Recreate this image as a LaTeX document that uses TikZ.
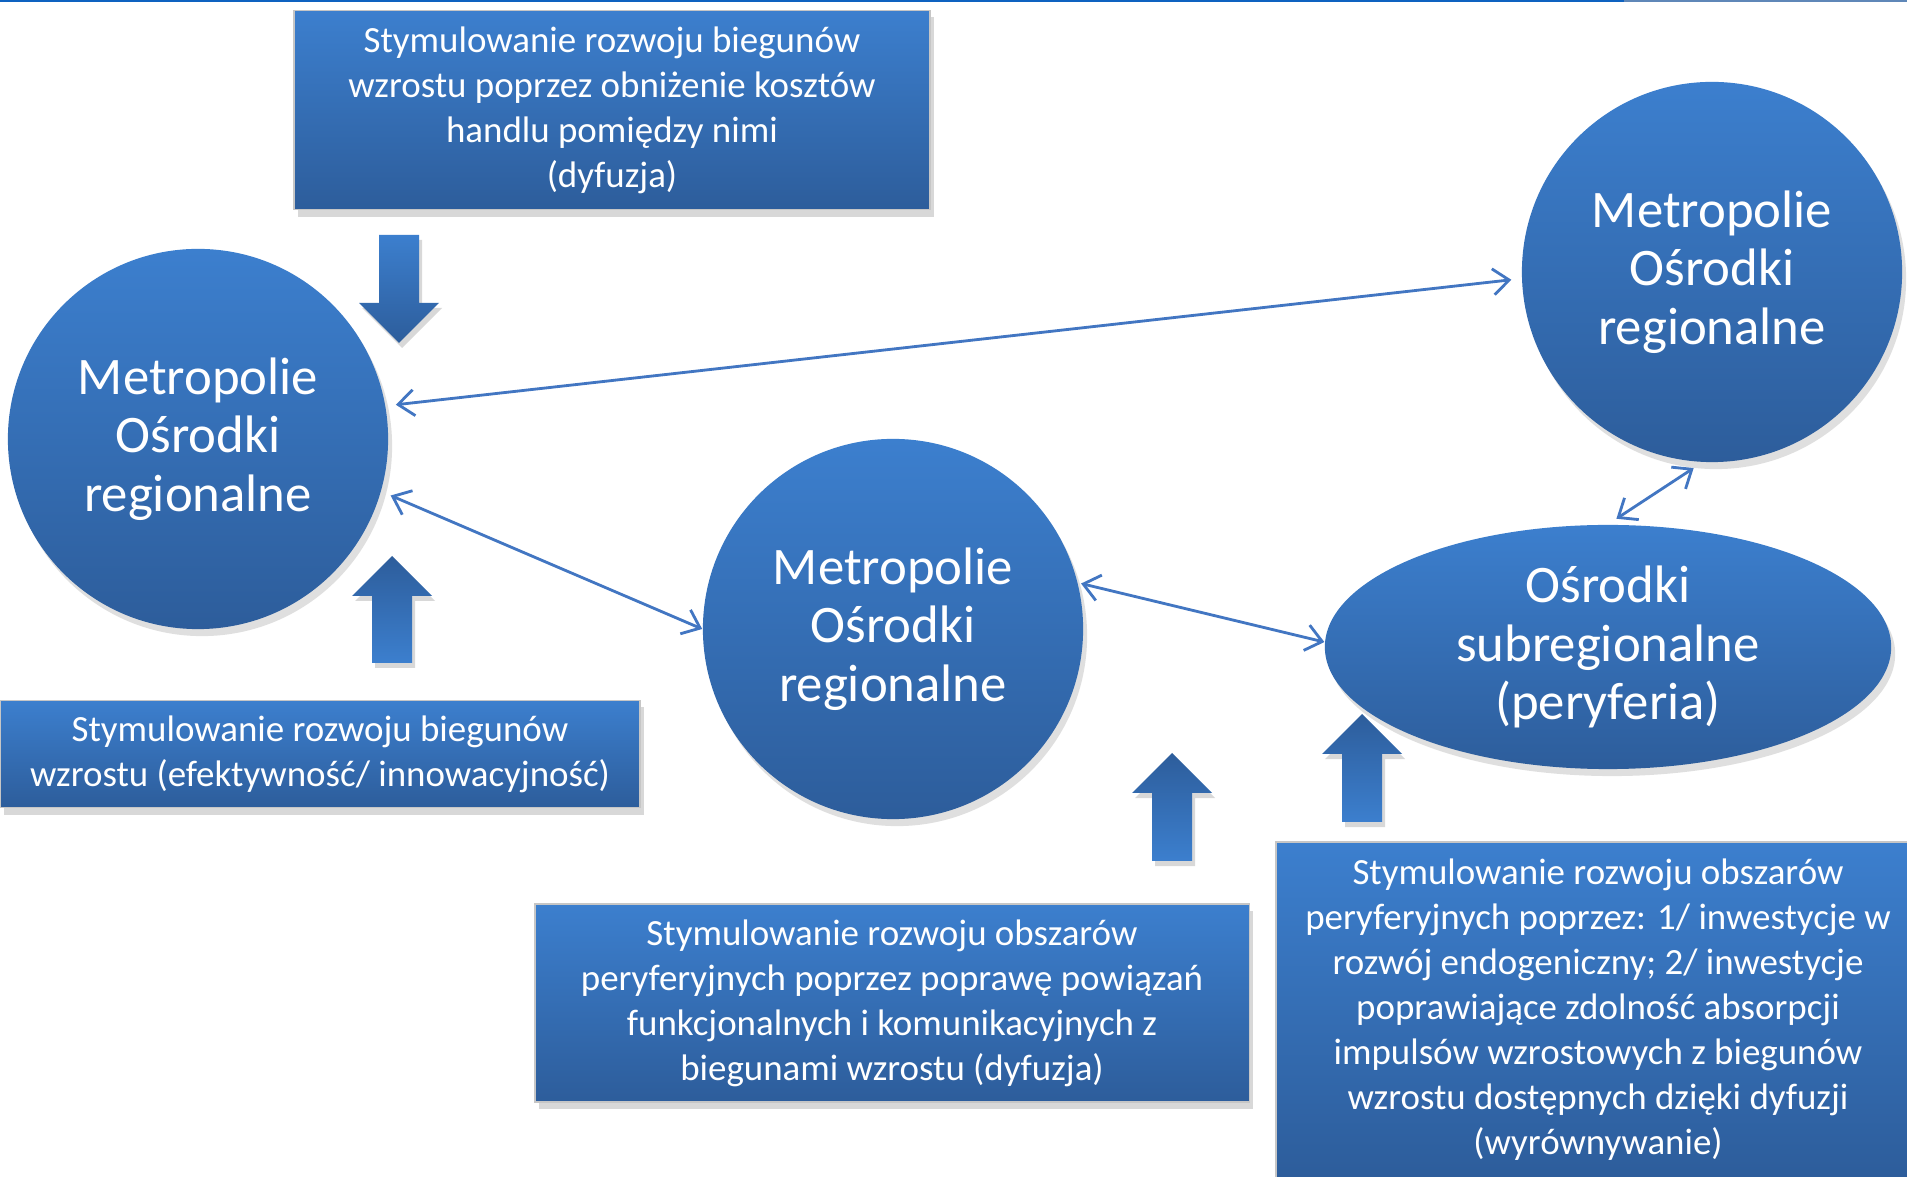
\documentclass[tikz,border=0pt]{standalone}
\usepackage{fontspec}
\setmainfont{Carlito}
\usetikzlibrary{shapes.geometric, arrows.meta, shadows}

\definecolor{boxtop}{RGB}{60,127,206}
\definecolor{boxbot}{RGB}{45,93,155}
\definecolor{linkblue}{RGB}{66,118,194}
\definecolor{rulecol}{RGB}{14,98,192}
\definecolor{rulegray}{RGB}{95,135,184}

\begin{document}
\begin{tikzpicture}[x=0.01cm, y=-0.01cm,
    box/.style={rectangle, draw=gray!45, line width=0.4pt, top color=boxtop, bottom color=boxbot,
        text=white, align=center, inner sep=0pt, font=\fontsize{10.5}{12.8}\selectfont,
        drop shadow={opacity=0.3, shadow xshift=0.4mm, shadow yshift=-0.7mm}},
    pole/.style={circle, minimum size=3.8cm, inner sep=0pt, top color=boxtop, bottom color=boxbot,
        text=white, align=center, font=\fontsize{15}{16.6}\selectfont,
        drop shadow={opacity=0.25, shadow xshift=0.4mm, shadow yshift=-0.7mm}},
    blockarrow/.style={drop shadow={opacity=0.3, shadow xshift=0.3mm, shadow yshift=-0.5mm}},
    link/.style={draw=linkblue, line width=0.8pt,
        {Straight Barb[length=1.6mm,width=2.6mm]}-{Straight Barb[length=1.6mm,width=2.6mm]},
        shorten <=1mm, shorten >=1mm}]

    \useasboundingbox (0,0) rectangle (1907,1177);
    \fill[white] (0,0) rectangle (1907,1177);

    % Top rule
    \draw[rulecol, line width=0.02cm] (0,1) -- (1624,1);
    \draw[rulegray, line width=0.02cm] (1624,1) -- (1907,1);

    % Poles
    \node[pole] (leftpole) at (198,439) {Metropolie\\Ośrodki\\regionalne};
    \node[pole] (toppole) at (1712,272) {Metropolie\\Ośrodki\\regionalne};
    \node[pole] (midpole) at (893,629) {Metropolie\\Ośrodki\\regionalne};
    \node[ellipse, minimum width=5.66cm, minimum height=2.44cm, inner sep=0pt,
        top color=boxtop, bottom color=boxbot, text=white, align=center,
        font=\fontsize{15}{16.6}\selectfont,
        drop shadow={opacity=0.25, shadow xshift=0.4mm, shadow yshift=-0.7mm}]
        (periphery) at (1608,647) {Ośrodki\\subregionalne\\(peryferia)};

    % Policy boxes
    \node[box, minimum width=6.36cm, minimum height=1.99cm] (topbox) at (612,110)
        {Stymulowanie rozwoju biegunów\\wzrostu poprzez obniżenie kosztów\\handlu pomiędzy nimi\\(dyfuzja)};
    \node[box, minimum width=6.40cm, minimum height=1.07cm] (leftbox) at (320,754)
        {Stymulowanie rozwoju biegunów\\wzrostu (efektywność/ innowacyjność)};
    \node[box, minimum width=7.14cm, minimum height=1.98cm] (midbox) at (892,1003)
        {Stymulowanie rozwoju obszarów\\peryferyjnych poprzez poprawę powiązań\\funkcjonalnych i komunikacyjnych z\\biegunami wzrostu (dyfuzja)};
    \node[box, minimum width=6.44cm, minimum height=3.36cm] (rightbox) at (1598,1010)
        {Stymulowanie rozwoju obszarów\\peryferyjnych poprzez: 1/ inwestycje w\\rozwój endogeniczny; 2/ inwestycje\\poprawiające zdolność absorpcji\\impulsów wzrostowych z biegunów\\wzrostu dostępnych dzięki dyfuzji\\(wyrównywanie)};

    % Block arrows
    \path[blockarrow, top color=boxtop, bottom color=boxbot]
        (399,343) -- ++(40,-40) -- ++(-20,0) -- ++(0,-68) -- ++(-40,0) -- ++(0,68) -- ++(-20,0) -- cycle;
    \path[blockarrow, top color=boxbot, bottom color=boxtop]
        (392,556) -- ++(40,40) -- ++(-20,0) -- ++(0,67) -- ++(-40,0) -- ++(0,-67) -- ++(-20,0) -- cycle;
    \path[blockarrow, top color=boxbot, bottom color=boxtop]
        (1172,753) -- ++(40,40) -- ++(-20,0) -- ++(0,68) -- ++(-40,0) -- ++(0,-68) -- ++(-20,0) -- cycle;
    \path[blockarrow, top color=boxbot, bottom color=boxtop]
        (1362,714) -- ++(40,40) -- ++(-20,0) -- ++(0,68) -- ++(-40,0) -- ++(0,-68) -- ++(-20,0) -- cycle;

    % Links between poles
    \draw[link] (leftpole.10) -- (toppole.182);
    \draw[link, shorten >=0pt] (leftpole.-16) -- (midpole.180);
    \draw[link, shorten <=0.3mm, shorten >=0pt] (midpole.14) -- (periphery.179);
    \draw[link] (periphery.90) -- (toppole.267);
\end{tikzpicture}
\end{document}
